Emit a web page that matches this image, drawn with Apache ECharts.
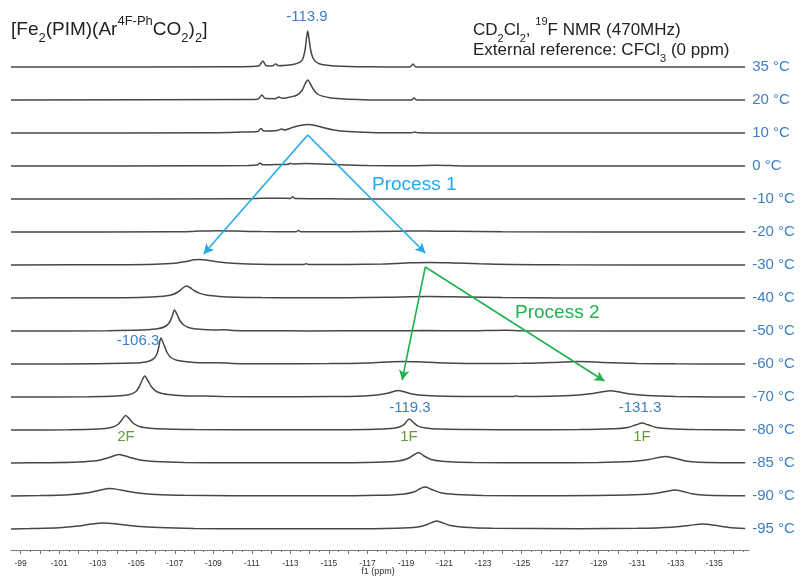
<!DOCTYPE html>
<html>
<head>
<meta charset="utf-8">
<script src="https://cdn.jsdelivr.net/npm/echarts@6/dist/echarts.min.js"></script>
<style>
  html, body { margin: 0; background: #fff; }
  #chart { width: 801px; height: 576px; }
</style>
</head>
<body>
<div id="chart"></div>
<script>
// temperatures, top trace first
const temps = ['35 °C', '20 °C', '10 °C', '0 °C', '-10 °C', '-20 °C', '-30 °C', '-40 °C',
  '-50 °C', '-60 °C', '-70 °C', '-80 °C', '-85 °C', '-90 °C', '-95 °C']

// each trace: [ppm, intensity above its own baseline]
const t35 = [[-98.5, 0], [-110.5, 0.3], [-111.35, 0.9], [-111.57, 6], [-111.75, 1.2], [-112.05, 0.9], [-112.23, 3], [-112.4, 1.3], [-112.8, 1.8], [-113.2, 2.8], [-113.5, 4.8], [-113.65, 8.5], [-113.76, 17], [-113.83, 28], [-113.9, 36], [-113.97, 28], [-114.05, 17], [-114.16, 9.5], [-114.3, 5.5], [-114.5, 3.2], [-114.8, 1.9], [-115.3, 1], [-116, 0.4], [-117, 0.15], [-119.2, 0], [-119.36, 3], [-119.52, 0], [-136.6, 0]]
const t20 = [[-98.5, 0], [-110.8, 0.4], [-111.33, 1], [-111.52, 5], [-111.7, 1.4], [-112.2, 1.3], [-112.4, 3], [-112.58, 1.8], [-113.0, 3], [-113.35, 5], [-113.6, 9.5], [-113.76, 16], [-113.9, 20], [-114.04, 16], [-114.2, 10.5], [-114.4, 6], [-114.7, 3.6], [-115.1, 2.1], [-115.8, 1], [-116.8, 0.35], [-118, 0], [-119.28, 0], [-119.42, 2], [-119.56, 0], [-136.6, 0]]
const t10 = [[-98.5, 0], [-109, 0.3], [-110.5, 0.9], [-111.3, 1.4], [-111.47, 4.5], [-111.63, 1.9], [-112.3, 2.4], [-112.55, 4], [-112.7, 3], [-113.1, 5.5], [-113.5, 7.5], [-113.9, 8.5], [-114.3, 7.5], [-114.7, 5.5], [-115.2, 3.3], [-115.8, 1.8], [-116.8, 0.8], [-118, 0.3], [-119.3, 0.3], [-119.45, 1], [-119.6, 0.2], [-121, 0], [-136.6, 0]]
const t0 = [[-98.5, 0], [-108, 0.2], [-110.8, 0.6], [-111.28, 1], [-111.42, 3], [-111.56, 1.2], [-112, 1.3], [-112.88, 1.8], [-113.0, 2.7], [-113.12, 1.9], [-113.8, 2.4], [-114.6, 2.1], [-115.5, 1.2], [-117, 0.4], [-119.3, 0.3], [-120.6, 0.7], [-122, 0.1], [-136.6, 0]]
const tm10 = [[-98.5, 0], [-110.8, 0.2], [-111.5, 0.8], [-112.5, 0.8], [-113.0, 0.6], [-113.12, 2.2], [-113.24, 0.4], [-115, 0.2], [-117, 0], [-136.6, 0]]
const tm20 = [[-98.5, 0], [-107, 0.2], [-108.3, 0.9], [-109.2, 1.3], [-110.2, 0.9], [-111.5, 0.4], [-113.3, 0.3], [-113.42, 1.6], [-113.54, 0.3], [-116, 0.3], [-118.5, 0.8], [-120, 1.1], [-121.5, 0.7], [-124, 0.2], [-136.6, 0]]
const tm30 = [[-98.5, 0], [-104, 0.3], [-106, 0.8], [-107, 1.8], [-107.6, 3.5], [-108.0, 5.2], [-108.3, 5.6], [-108.7, 4.8], [-109.2, 3.2], [-109.8, 2], [-110.8, 1.1], [-112, 0.6], [-113.7, 0.4], [-113.82, 1.2], [-113.94, 0.4], [-116, 0.5], [-117.8, 1.1], [-119, 2], [-120.2, 2.6], [-121.4, 2.1], [-122.8, 1.2], [-124.5, 0.6], [-127, 0.2], [-136.6, 0]]
const tm40 = [[-98.5, 0], [-104, 0.3], [-105.5, 0.8], [-106.4, 1.8], [-106.9, 3.5], [-107.2, 6.5], [-107.42, 10], [-107.6, 12], [-107.78, 10.5], [-108.0, 7.5], [-108.3, 4.6], [-108.7, 2.7], [-109.3, 1.6], [-110.2, 0.8], [-111.5, 0.4], [-113, 0.2], [-116, 0.3], [-118, 0.8], [-120.2, 1.5], [-122, 1], [-124, 0.4], [-127, 0.1], [-136.6, 0]]
const tm50 = [[-98.5, 0], [-103.5, 0.3], [-105.3, 0.9], [-106.1, 2.2], [-106.5, 4.5], [-106.72, 8.5], [-106.87, 15], [-106.98, 21], [-107.12, 16.5], [-107.28, 10], [-107.5, 5.5], [-107.8, 3.1], [-108.3, 1.7], [-109.0, 0.9], [-109.5, 1.3], [-110.0, 0.6], [-111.5, 0.3], [-114, 0.1], [-118, 0.2], [-120, 0.4], [-122, 0.2], [-124.2, 0.8], [-125, 0.2], [-136.6, 0]]
const tm60 = [[-98.5, 0], [-103, 0.3], [-104.8, 0.9], [-105.5, 2], [-105.85, 4.5], [-106.05, 9], [-106.17, 17], [-106.28, 26], [-106.42, 20], [-106.6, 11.5], [-106.8, 6.5], [-107.1, 3.8], [-107.6, 2.2], [-108.3, 1.3], [-109.2, 1.3], [-110, 0.6], [-112, 0.3], [-115, 0.4], [-117, 1], [-118.3, 2.3], [-118.9, 2.6], [-119.6, 2.2], [-121, 1.1], [-123, 0.5], [-125, 0.7], [-126.5, 1.5], [-127.9, 2.4], [-129.2, 1.6], [-131, 0.6], [-133, 0.2], [-136.6, 0]]
const tm70 = [[-98.5, 0], [-102.5, 0.3], [-104, 1], [-104.6, 2.3], [-104.95, 5], [-105.15, 10], [-105.3, 16.5], [-105.44, 21], [-105.6, 16.5], [-105.8, 10], [-106.05, 5.5], [-106.4, 3.2], [-107, 1.8], [-107.8, 1], [-108.6, 1.1], [-109.5, 0.4], [-112, 0.2], [-115, 0.4], [-116.8, 1.1], [-117.6, 2.3], [-118.1, 4], [-118.4, 5.8], [-118.6, 6.6], [-118.85, 5.6], [-119.2, 3.6], [-119.8, 1.8], [-121, 0.8], [-123, 0.4], [-124.6, 0.4], [-124.72, 1.2], [-124.84, 0.4], [-126.5, 0.8], [-127.8, 1.8], [-128.7, 3.5], [-129.2, 5.2], [-129.6, 6.2], [-130.0, 5.2], [-130.6, 3], [-131.5, 1.5], [-133, 0.5], [-135, 0.1], [-136.6, 0]]
const tm80 = [[-98.5, 0], [-101.5, 0.3], [-103, 1], [-103.7, 2.5], [-104.05, 5.5], [-104.25, 10], [-104.45, 14.5], [-104.65, 11], [-104.9, 6], [-105.2, 3.2], [-105.7, 1.8], [-106.5, 0.9], [-108, 0.4], [-112, 0.2], [-116, 0.3], [-117.8, 0.9], [-118.5, 2.2], [-118.85, 4.8], [-119.05, 9], [-119.18, 11], [-119.33, 8.5], [-119.6, 4.2], [-120, 2], [-120.8, 0.9], [-122.5, 0.4], [-125, 0.3], [-128, 0.4], [-129.8, 1.2], [-130.5, 2.6], [-130.95, 5.2], [-131.25, 7], [-131.55, 5.2], [-132, 2.6], [-132.7, 1.2], [-134, 0.4], [-136.6, 0]]
const tm85 = [[-98.5, 0], [-100.5, 0.3], [-102, 1], [-103, 2.5], [-103.6, 5.5], [-104.1, 8.5], [-104.6, 6], [-105.2, 3], [-106, 1.5], [-107.5, 0.6], [-110, 0.2], [-115, 0.2], [-117.5, 0.8], [-118.6, 2], [-119.1, 4.5], [-119.4, 8], [-119.66, 10.5], [-119.9, 7.5], [-120.3, 3.5], [-121, 1.6], [-122.5, 0.6], [-126, 0.3], [-129, 0.6], [-130.7, 1.6], [-131.6, 3.5], [-132.1, 5.5], [-132.45, 6.5], [-132.9, 5], [-133.5, 2], [-134.2, 0.8], [-136.6, 0.2]]
const tm90 = [[-98.5, 0], [-100, 0.4], [-101.5, 1.3], [-102.5, 3.2], [-103.1, 5.8], [-103.6, 7.5], [-104.2, 6], [-105, 3.2], [-106, 1.6], [-107.5, 0.7], [-110, 0.3], [-115, 0.2], [-117.5, 0.7], [-118.8, 1.8], [-119.4, 4], [-119.75, 7.5], [-120.0, 9], [-120.3, 6.8], [-120.8, 3.2], [-121.6, 1.5], [-123, 0.6], [-127, 0.3], [-130.5, 0.9], [-131.8, 2.2], [-132.5, 4.5], [-132.95, 6], [-133.4, 4.5], [-133.9, 2], [-134.6, 0.8], [-136.6, 0.2]]
const tm95 = [[-98.5, 0], [-99.5, 0.4], [-101, 1.3], [-102, 3], [-102.7, 5], [-103.3, 6], [-104, 5], [-105, 2.8], [-106.2, 1.4], [-108, 0.6], [-111, 0.2], [-116, 0.2], [-118.5, 0.8], [-119.6, 2], [-120.1, 4.5], [-120.4, 7], [-120.6, 8], [-120.85, 6.5], [-121.3, 3.5], [-122, 1.7], [-123.5, 0.7], [-128, 0.3], [-131, 0.7], [-132.8, 1.8], [-133.7, 3.6], [-134.4, 5], [-135.0, 3.8], [-135.6, 2], [-136.1, 0.9], [-136.6, 0.4]]

const traces = [t35, t20, t10, t0, tm10, tm20, tm30, tm40, tm50, tm60, tm70, tm80, tm85, tm90, tm95]

// labelled ticks on the ppm axis
const tickLabels = [-99, -101, -103, -105, -107, -109, -111, -113, -115, -117, -119,
  -121, -123, -125, -127, -129, -131, -133, -135]

// arrows (ppm, stacked height) for the two exchange processes
const process1 = [[[-113.9, 415], [-108.5, 296]], [[-113.9, 415], [-120.0, 297]]]
const process2 = [[[-120.0, 283], [-118.8, 170]], [[-120.0, 283], [-129.3, 169]]]

const FONT = '"Liberation Sans", Arial, sans-serif'
const BLUE = '#3c7fc6'
const P1 = '#22a9ee'
const P2 = '#1fb24e'
const OLIVE = '#629c38'
const STEP = 33     // vertical gap between stacked spectra
const BASE = 21     // baseline of the lowest spectrum

const chart = echarts.init(document.getElementById('chart'))

const minorTicks = []
for (let v = -99; v >= -136.5; v -= 0.5) minorTicks.push(v)
const majorTicks = []
for (let v = -99; v >= -136; v -= 1) majorTicks.push(v)

const series = traces.map((pts, i) => ({
  name: temps[i],
  type: 'line',
  data: pts.map(p => [p[0], BASE + (traces.length - 1 - i) * STEP + p[1]]),
  showSymbol: false,
  smooth: 0.3,
  silent: true,
  lineStyle: { color: '#474747', width: 1.5 },
  endLabel: {
    show: true,
    formatter: '{a}',
    color: BLUE,
    fontSize: 15,
    fontFamily: FONT,
    distance: 0,
    align: 'left',
    offset: [7, 0]
  }
}))

const arrowItem = (seg, color) => [
  { coord: seg[0], lineStyle: { color: color, width: 1.6, type: 'solid' } },
  { coord: seg[1] }
]
series[0].markLine = {
  silent: true,
  symbol: ['none', 'arrow'],
  symbolSize: [8, 10],
  label: { show: false },
  data: process1.map(s => arrowItem(s, P1)).concat(process2.map(s => arrowItem(s, P2)))
}

const txt = (x, y, text, color, size, align) => ({
  type: 'text',
  x: x,
  y: y,
  style: {
    text: text,
    fill: color,
    font: size + 'px ' + FONT,
    textAlign: align || 'center',
    textVerticalAlign: 'middle'
  }
})

const richStyle = (size) => ({
  sub: { fontSize: Math.round(size * 0.66), fontFamily: FONT, verticalAlign: 'bottom', lineHeight: 15, fill: '#222' },
  sup: { fontSize: Math.round(size * 0.66), fontFamily: FONT, verticalAlign: 'top', lineHeight: 15, fill: '#222' }
})

const option = {
  animation: false,
  grid: { left: 11, right: 52, top: 0, bottom: 26, outerBoundsMode: 'none', containLabel: false },
  xAxis: [{
    type: 'value',
    inverse: true,
    min: -136.8,
    max: -98.5,
    splitLine: { show: false },
    axisLine: { lineStyle: { color: '#777', width: 1 } },
    axisTick: { customValues: majorTicks, length: 4, lineStyle: { color: '#777' } },
    axisLabel: { customValues: tickLabels, fontSize: 8.5, color: '#333', fontFamily: FONT, margin: 9 }
  }, {
    type: 'value',
    inverse: true,
    min: -136.8,
    max: -98.5,
    position: 'bottom',
    splitLine: { show: false },
    axisLine: { show: false },
    axisTick: { customValues: minorTicks, length: 2, lineStyle: { color: '#777' } },
    axisLabel: { show: false }
  }],
  yAxis: { type: 'value', min: 0, max: 550, show: false },
  series: series,
  graphic: [
    {
      type: 'text', x: 11, y: 15,
      style: {
        text: '[Fe{sub|2}(PIM)(Ar{sup|4F-Ph}CO{sub|2}){sub|2}]',
        fill: '#222', font: '19px ' + FONT, lineHeight: 30,
        rich: richStyle(19)
      }
    },
    {
      type: 'text', x: 473, y: 16,
      style: {
        text: 'CD{sub|2}Cl{sub|2}, {sup|19}F NMR (470MHz)',
        fill: '#222', font: '17px ' + FONT, lineHeight: 28,
        rich: richStyle(17)
      }
    },
    {
      type: 'text', x: 473, y: 36,
      style: {
        text: 'External reference: CFCl{sub|3} (0 ppm)',
        fill: '#222', font: '17px ' + FONT, lineHeight: 28,
        rich: richStyle(17)
      }
    },
    txt(378, 572, 'f1 (ppm)', '#333', 9),
    txt(307, 17, '-113.9', BLUE, 15),
    txt(138, 341, '-106.3', BLUE, 15),
    txt(410, 408, '-119.3', BLUE, 15),
    txt(640, 408, '-131.3', BLUE, 15),
    txt(126, 437, '2F', OLIVE, 15),
    txt(409, 437, '1F', OLIVE, 15),
    txt(642, 437, '1F', OLIVE, 15),
    txt(372, 185, 'Process 1', P1, 19, 'left'),
    txt(515, 313, 'Process 2', P2, 19, 'left')
  ]
}

chart.setOption(option)
</script>
</body>
</html>
